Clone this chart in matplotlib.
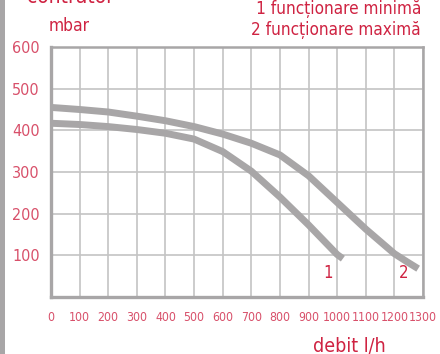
import matplotlib
matplotlib.use("Agg")
import matplotlib.pyplot as plt
from matplotlib.patches import Rectangle

# Data
flow_min = [0, 100, 200, 300, 400, 500, 600, 700, 800, 900, 1000, 1020]
pres_min = [417, 414, 409, 402, 393, 379, 349, 302, 240, 173, 102, 92]

flow_max = [0, 100, 200, 300, 400, 500, 600, 700, 800, 900, 1000, 1100, 1200, 1243, 1283]
pres_max = [455, 450, 444, 434, 423, 409, 391, 369, 341, 291, 227, 163, 104, 85, 68]

x_ticks = list(range(0, 1301, 100))
y_ticks = [100, 200, 300, 400, 500, 600]

curve_labels = ["1", "2"]
label_pos_x = [968, 1231]
label_pos_y = [57, 57]

legend_lines = ["1 funcționare minimă", "2 funcționare maximă"]

RED = "#cf2342"
TICKRED = "#d8506a"
GRAY = "#a8a6a7"
GRID = "#c4c4c4"
FONT = dict(family="DejaVu Sans", stretch="condensed")

W, H = 440, 354
fig = plt.figure(figsize=(W / 100, H / 100), dpi=100)
ax = fig.add_axes([51 / W, (H - 297) / H, (423 - 51) / W, (297 - 47) / H])

ax.plot(flow_min, pres_min, color=GRAY, lw=5, solid_capstyle="butt", solid_joinstyle="round", zorder=3)
ax.plot(flow_max, pres_max, color=GRAY, lw=5, solid_capstyle="butt", solid_joinstyle="round", zorder=3)

for t, xx, yy in zip(curve_labels, label_pos_x, label_pos_y):
    ax.text(xx, yy, t, color=RED, fontsize=12, ha="center", va="center", **FONT)

ax.set_xlim(0, 1300)
ax.set_ylim(0, 600)
ax.set_xticks(x_ticks)
ax.set_yticks(y_ticks)
ax.grid(True, color=GRID, lw=1.2, zorder=0)
ax.set_axisbelow(True)
ax.tick_params(length=0)
ax.tick_params(axis="x", pad=10, labelsize=8.8, labelcolor=TICKRED)
ax.tick_params(axis="y", pad=8, labelsize=11.5, labelcolor=TICKRED)
for lab in ax.get_xticklabels() + ax.get_yticklabels():
    lab.set_fontstretch("condensed")
    lab.set_family("DejaVu Sans")

for side in ["left", "bottom"]:
    ax.spines[side].set_color(GRAY)
    ax.spines[side].set_linewidth(2.4)
for side in ["top", "right"]:
    ax.spines[side].set_color(GRAY)
    ax.spines[side].set_linewidth(1.8)

# left gray bar at image edge
fig.add_artist(Rectangle((0, 0), 5 / W, 1, transform=fig.transFigure, color=GRAY, lw=0))

# texts
fig.text(27 / W, (H - 3) / H, "contrator", color=RED, fontsize=15, ha="left", va="baseline", **FONT)
fig.text(49 / W, (H - 26) / H, "mbar", color=RED, fontsize=12.5, ha="left", va="center", **FONT)
fig.text(421 / W, (H - 9) / H, legend_lines[0], color=RED, fontsize=12.3, ha="right", va="center", **FONT)
fig.text(421 / W, (H - 30) / H, legend_lines[1], color=RED, fontsize=12.3, ha="right", va="center", **FONT)
fig.text(349 / W, (H - 346) / H, "debit l/h", color=RED, fontsize=14, ha="center", va="center", **FONT)

fig.savefig("out.png", dpi=100)
